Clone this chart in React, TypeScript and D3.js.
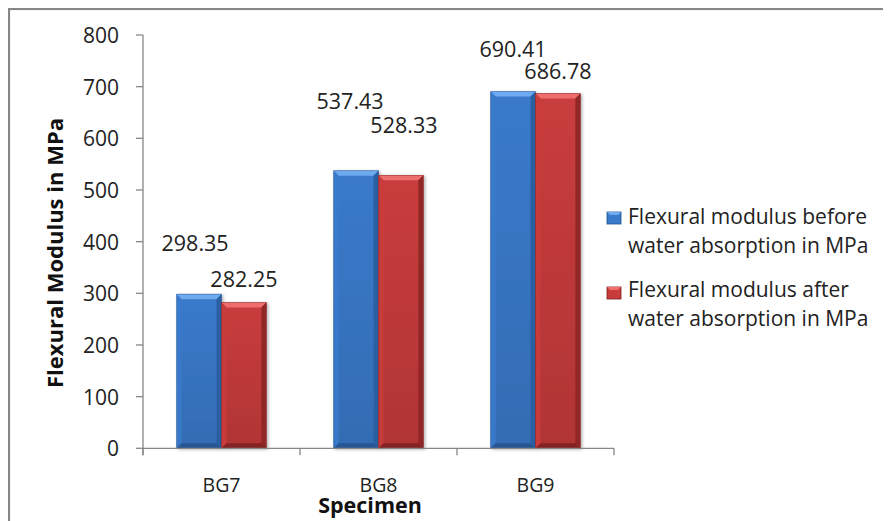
import React from "react";
import * as d3 from "d3";

// Flexural modulus of BG specimens before and after water absorption
const specimens = ["BG7", "BG8", "BG9"];
const seriesNames = [
  "Flexural modulus before water absorption in MPa",
  "Flexural modulus after water absorption in MPa",
];
const beforeValues = [298.35, 537.43, 690.41];
const afterValues = [282.25, 528.33, 686.78];
const yTicks = [0, 100, 200, 300, 400, 500, 600, 700, 800];

const legendLines = [
  ["Flexural modulus before", "water absorption in MPa"],
  ["Flexural modulus after", "water absorption in MPa"],
];

const W = 891;
const H = 521;
const FONT = "'Open Sans', 'DejaVu Sans', sans-serif";

const palettes = [
  { main: "#3a7acb", light: "#6eaaf0", dark: "#23518c", edge: "#2c60a2" },
  { main: "#c93c3c", light: "#ee6e6e", dark: "#7c1d1d", edge: "#912727" },
];

// per-bar label nudges [dx, dy above bar top] for each series
const labelNudge = [
  [
    [-4, 52],
    [-6, 70],
    [0, 43],
  ],
  [
    [0, 24],
    [3, 51],
    [0, 23],
  ],
];

function Bar({ x, y, w, h, pal, id }) {
  const b = Math.min(5, h / 2);
  return (
    <g filter="url(#barShadow)">
      <rect x={x} y={y} width={w} height={h} fill={`url(#grad${id})`} />
      {/* top bevel */}
      <polygon
        points={`${x},${y} ${x + w},${y} ${x + w - b},${y + b} ${x + b},${y + b}`}
        fill={pal.light}
      />
      {/* left bevel */}
      <polygon
        points={`${x},${y} ${x + b},${y + b} ${x + b},${y + h - b} ${x},${y + h}`}
        fill={pal.main}
        opacity={0.9}
      />
      {/* right bevel */}
      <polygon
        points={`${x + w},${y} ${x + w},${y + h} ${x + w - b},${y + h - b} ${x + w - b},${y + b}`}
        fill={pal.edge}
      />
      {/* bottom bevel */}
      <polygon
        points={`${x},${y + h} ${x + w},${y + h} ${x + w - b},${y + h - b} ${x + b},${y + h - b}`}
        fill={pal.dark}
        opacity={0.8}
      />
      <rect x={x} y={y} width={w} height={h} fill="none" stroke={pal.dark} strokeOpacity={0.5} strokeWidth={0.8} />
    </g>
  );
}

export default function App() {
  const plotLeft = 143;
  const plotRight = 614;
  const y = d3.scaleLinear().domain([0, 800]).range([448.3, 35]);
  const x0 = d3
    .scaleBand()
    .domain(specimens)
    .range([plotLeft, plotRight])
    .paddingInner(1.5 / 3.5)
    .paddingOuter(0.75 / 3.5);
  const x1 = d3.scaleBand().domain(["0", "1"]).range([0, x0.bandwidth()]);
  const step = x0.step();
  const series = [beforeValues, afterValues];
  const axisColor = "#878787";

  return (
    <svg width={W - 8} height={H - 8} style={{ display: "block" }}>
      <defs>
        {palettes.map((p, i) => (
          <linearGradient key={i} id={`grad${i}`} x1="0" y1="0" x2="0" y2="1">
            <stop offset="0" stopColor={p.main} />
            <stop offset="1" stopColor={d3.color(p.main).darker(0.35).toString()} />
          </linearGradient>
        ))}
        <filter id="barShadow" x="-20%" y="-5%" width="140%" height="115%">
          <feDropShadow dx="1.5" dy="1" stdDeviation="1.5" floodColor="#000" floodOpacity="0.3" />
        </filter>
      </defs>
      <g transform="translate(-8,-8)">
        <rect x={0} y={0} width={W} height={H} fill="#fff" />
        {/* chart area border */}
        <rect x={9} y={9} width={W + 20} height={H + 20} fill="none" stroke={axisColor} strokeWidth={2.2} />

        {/* y axis */}
        <line x1={plotLeft} x2={plotLeft} y1={y(800)} y2={y(0) + 7} stroke={axisColor} strokeWidth={1.3} />
        {yTicks.map((t) => (
          <g key={t}>
            <line x1={plotLeft - 7} x2={plotLeft} y1={y(t)} y2={y(t)} stroke={axisColor} strokeWidth={1.3} />
            <text
              x={119}
              y={y(t)}
              textAnchor="end"
              dominantBaseline="central"
              fontFamily={FONT}
              fontSize={21}
              fill="#222"
            >
              {t}
            </text>
          </g>
        ))}

        {/* bars */}
        {specimens.map((s, i) =>
          series.map((vals, k) => {
            const bx = x0(s) + x1(String(k));
            const by = y(vals[i]);
            return (
              <Bar
                key={`${s}-${k}`}
                x={bx}
                y={by}
                w={x1.bandwidth()}
                h={y(0) - by}
                pal={palettes[k]}
                id={k}
              />
            );
          })
        )}

        {/* x axis */}
        <line x1={plotLeft} x2={plotRight} y1={y(0)} y2={y(0)} stroke={axisColor} strokeWidth={1.3} />
        {d3.range(specimens.length + 1).map((i) => (
          <line
            key={i}
            x1={plotLeft + i * step}
            x2={plotLeft + i * step}
            y1={y(0)}
            y2={y(0) + 7}
            stroke={axisColor}
            strokeWidth={1.3}
          />
        ))}
        {specimens.map((s) => (
          <text
            key={s}
            x={x0(s) + x0.bandwidth() / 2}
            y={492}
            textAnchor="middle"
            fontFamily={FONT}
            fontSize={19.5}
            fill="#222"
          >
            {s}
          </text>
        ))}

        {/* data labels */}
        {specimens.map((s, i) =>
          series.map((vals, k) => {
            const [dx, dy] = labelNudge[k][i];
            const cx = x0(s) + x1(String(k)) + x1.bandwidth() / 2 + dx;
            return (
              <text
                key={`l-${s}-${k}`}
                x={cx}
                y={y(vals[i]) - dy}
                textAnchor="middle"
                dominantBaseline="central"
                fontFamily={FONT}
                fontSize={21.5}
                fill="#222"
              >
                {vals[i].toFixed(2)}
              </text>
            );
          })
        )}

        {/* axis titles */}
        <text
          transform="translate(54,253) rotate(-90)"
          textAnchor="middle"
          dominantBaseline="central"
          fontFamily={FONT}
          fontWeight="bold"
          fontSize={22}
          fill="#111"
        >
          Flexural Modulus in MPa
        </text>
        <text x={370} y={513} textAnchor="middle" fontFamily={FONT} fontWeight="bold" fontSize={21.5} fill="#111">
          Specimen
        </text>

        {/* legend */}
        {seriesNames.map((name, k) => {
          const top = 212 + k * 75;
          return (
            <g key={name}>
              <rect x={607} y={top} width={14} height={12} fill={palettes[k].main} stroke={palettes[k].dark} strokeWidth={0.8} />
              <polygon
                points={`607,${top} 621,${top} 618,${top + 3} 610,${top + 3}`}
                fill={palettes[k].light}
              />
              {legendLines[k].map((ln, j) => (
                <text
                  key={j}
                  x={628}
                  y={224 + k * 73 + j * 29}
                  fontFamily={FONT}
                  fontSize={21}
                  fill="#222"
                >
                  {ln}
                </text>
              ))}
            </g>
          );
        })}
      </g>
    </svg>
  );
}
